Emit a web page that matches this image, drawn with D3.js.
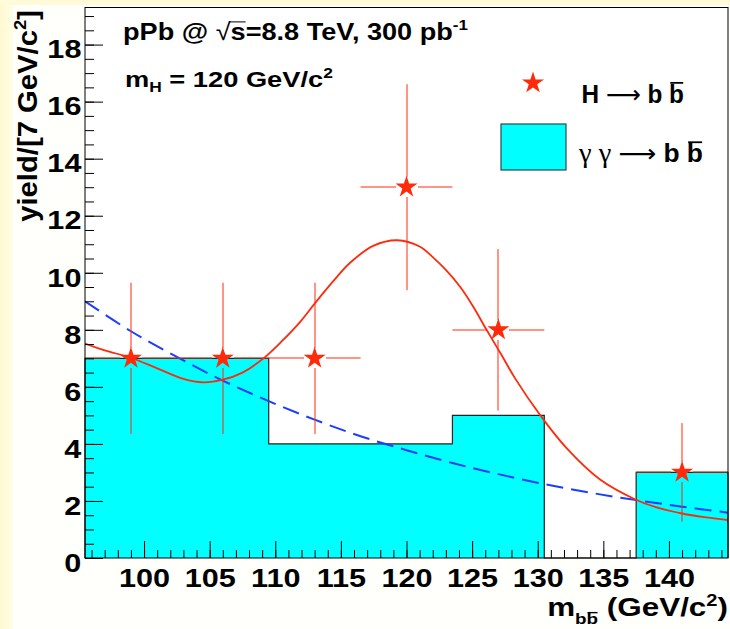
<!DOCTYPE html>
<html>
<head>
<meta charset="utf-8">
<script src="https://cdn.jsdelivr.net/npm/d3@7"></script>
<style>
  html, body { margin: 0; padding: 0; background: #fff; }
  svg { display: block; }
  text { font-family: "Liberation Sans", Arial, Helvetica, sans-serif; }
</style>
</head>
<body>
<svg id="chart" width="730" height="629"></svg>
<script>
// m_bb binning (GeV/c^2), 7 GeV wide bins
const binEdges = [95.5, 102.5, 109.5, 116.5, 123.5, 130.5, 137.5, 144.5];
// gamma gamma -> b bbar background counts per bin
const ggCounts = [7, 7, 4, 4, 5, 0, 3];

// H -> b bbar candidates (bin centre, yield, stat. error, half bin width)
const higgsMass   = [99, 106, 113, 120, 127, 141];
const higgsYield  = [7, 7, 7, 13, 8, 3];
const higgsErr    = [2.65, 2.65, 2.65, 3.61, 2.83, 1.73];
const higgsHalfBin = [3.5, 3.5, 3.5, 3.5, 3.5, 3.5];

// signal + background fit (solid red)
const totalFitMass  = [95.5, 97, 99, 101, 103, 104.5, 106, 107.5, 109.1, 110.5, 111.9, 113, 114.5, 115.7, 117.5, 119.3, 121, 122, 123, 124.1, 125.1, 126.1, 127.2, 128.3, 130.2, 132.2, 134.75, 137.4, 139, 141, 142.7, 144.5];
const totalFitYield = [7.52, 7.28, 7.02, 6.65, 6.28, 6.16, 6.25, 6.5, 7.0, 7.6, 8.28, 8.92, 9.75, 10.35, 10.95, 11.14, 10.92, 10.55, 10.1, 9.5, 8.8, 8.0, 7.15, 6.28, 5.0, 3.85, 2.75, 2.06, 1.78, 1.56, 1.43, 1.33];

// background-only fit (dashed blue)
const bkgFitMass  = [95.5, 99, 102.5, 106, 109.5, 113, 116.5, 120, 123.5, 127, 130.5, 134, 137.5, 141, 144.5];
const bkgFitYield = [9.0, 7.95, 7.05, 6.22, 5.5, 4.85, 4.27, 3.78, 3.33, 2.94, 2.59, 2.29, 2.03, 1.8, 1.59];

const xTickLabels = [100, 105, 110, 115, 120, 125, 130, 135, 140];
const yTickLabels = [0, 2, 4, 6, 8, 10, 12, 14, 16, 18];

const RED = "#ff2a0a";
const CYAN = "#00ffff";
const BLUE = "#1c3dff";

const svg = d3.select("#chart");
const frame = { left: 85, right: 728, top: 7.5, bottom: 558 };

const x = d3.scaleLinear().domain([binEdges[0], binEdges[binEdges.length - 1]]).range([frame.left, frame.right]);
const y = d3.scaleLinear().domain([0, 19.3]).range([frame.bottom, frame.top]);

// canvas background with the pale yellow edge
const defs = svg.append("defs");
const grad = defs.append("linearGradient").attr("id", "edge").attr("x1", 0).attr("x2", 1).attr("y1", 0).attr("y2", 0);
grad.append("stop").attr("offset", "0%").attr("stop-color", "#fff9d0");
grad.append("stop").attr("offset", "100%").attr("stop-color", "#fffde6");
svg.append("rect").attr("width", 730).attr("height", 629).attr("fill", "#fffffb");
svg.append("rect").attr("x", 0).attr("y", 0).attr("width", 13).attr("height", 629).attr("fill", "url(#edge)");
svg.append("rect").attr("x", 0).attr("y", 0).attr("width", 730).attr("height", 5).attr("fill", "#fffbd8");
svg.append("rect").attr("x", frame.left).attr("y", frame.top)
  .attr("width", frame.right - frame.left).attr("height", frame.bottom - frame.top).attr("fill", "#fff");

defs.append("clipPath").attr("id", "plotclip").append("rect")
  .attr("x", frame.left).attr("y", frame.top)
  .attr("width", frame.right - frame.left).attr("height", frame.bottom - frame.top);

// histogram
const histPts = ggCounts.map((c, i) => [binEdges[i], c]).concat([[binEdges[binEdges.length - 1], ggCounts[ggCounts.length - 1]]]);
svg.append("path")
  .datum(histPts)
  .attr("fill", CYAN)
  .attr("d", d3.area().x(d => x(d[0])).y0(y(0)).y1(d => y(d[1])).curve(d3.curveStepAfter));
const outlinePts = [[binEdges[0], 0]].concat(histPts, [[binEdges[binEdges.length - 1], 0]]);
svg.append("path")
  .datum(outlinePts)
  .attr("fill", "none").attr("stroke", "#222").attr("stroke-width", 1.2)
  .attr("d", d3.line().x(d => x(d[0])).y(d => y(d[1])).curve(d3.curveStepAfter));

const plot = svg.append("g").attr("clip-path", "url(#plotclip)");

// background-only fit
plot.append("path")
  .datum(d3.zip(bkgFitMass, bkgFitYield))
  .attr("fill", "none").attr("stroke", BLUE).attr("stroke-width", 2)
  .attr("stroke-dasharray", "17,8")
  .attr("d", d3.line().x(d => x(d[0])).y(d => y(d[1])).curve(d3.curveCatmullRom.alpha(0.5)));

// signal + background fit
plot.append("path")
  .datum(d3.zip(totalFitMass, totalFitYield))
  .attr("fill", "none").attr("stroke", RED).attr("stroke-width", 1.8)
  .attr("d", d3.line().x(d => x(d[0])).y(d => y(d[1])).curve(d3.curveCatmullRom.alpha(0.5)));

// error bars with a gap around each marker
const gap = 10;
const errG = plot.append("g").attr("stroke", RED).attr("stroke-width", 1);
higgsMass.forEach((m, i) => {
  const cx = Math.round(x(m)), cy = Math.round(y(higgsYield[i]));
  const top = y(higgsYield[i] + higgsErr[i]), bot = y(higgsYield[i] - higgsErr[i]);
  const l = x(m - higgsHalfBin[i]), r = x(m + higgsHalfBin[i]);
  errG.append("line").attr("x1", cx).attr("x2", cx).attr("y1", top).attr("y2", cy - gap);
  errG.append("line").attr("x1", cx).attr("x2", cx).attr("y1", cy + gap).attr("y2", bot);
  errG.append("line").attr("x1", l).attr("x2", cx - gap - 1).attr("y1", cy).attr("y2", cy);
  errG.append("line").attr("x1", cx + gap + 1).attr("x2", r).attr("y1", cy).attr("y2", cy);
});

// star markers
const star = d3.symbol().type(d3.symbolStar).size(150);
svg.append("g").selectAll("path").data(d3.zip(higgsMass, higgsYield)).join("path")
  .attr("d", star)
  .attr("fill", RED)
  .attr("transform", d => `translate(${x(d[0])},${y(d[1])})`);

// axes: ticks drawn inside the frame
function styleAxis(g) {
  g.select(".domain").remove();
  g.attr("font-family", null).attr("font-size", null);
  g.selectAll(".tick line").attr("stroke", "#000").attr("stroke-width", 1);
}
svg.append("g").attr("transform", `translate(${frame.left},0)`)
  .call(d3.axisLeft(y).tickValues(d3.range(0, 19.01, 0.5)).tickSize(-9).tickFormat(""))
  .call(styleAxis);
const yAx = svg.append("g").attr("transform", `translate(${frame.left},0)`)
  .call(d3.axisLeft(y).tickValues(yTickLabels).tickSize(-18).tickPadding(3).tickFormat(d3.format("d")))
  .call(styleAxis);
yAx.selectAll(".tick text")
  .attr("font-size", 25.5).attr("font-weight", "bold").attr("fill", "#000")
  .attr("dy", "0.52em").attr("transform", "scale(1.2,1)");

svg.append("g").attr("transform", `translate(0,${frame.bottom})`)
  .call(d3.axisBottom(x).tickValues(d3.range(96, 144.01, 1)).tickSize(-8).tickFormat(""))
  .call(styleAxis);
const xAx = svg.append("g").attr("transform", `translate(0,${frame.bottom})`)
  .call(d3.axisBottom(x).tickValues(xTickLabels).tickSize(-17).tickFormat(d3.format("d")))
  .call(styleAxis);
xAx.selectAll(".tick text")
  .attr("font-size", 25.5).attr("font-weight", "bold").attr("fill", "#000")
  .attr("y", 29).attr("dy", 0).attr("transform", "scale(1.2,1)");

// frame
svg.append("rect").attr("x", frame.left).attr("y", frame.top)
  .attr("width", frame.right - frame.left).attr("height", frame.bottom - frame.top)
  .attr("fill", "none").attr("stroke", "#000").attr("stroke-width", 1);

// text helper: rich text stretched to a given width
function fitText(parent, o) {
  const g = parent.append("g");
  const t = g.append("text")
    .attr("text-anchor", o.anchor || "start")
    .attr("font-size", o.size).attr("font-weight", "bold").attr("fill", "#000")
    .style("white-space", "pre");
  o.parts.forEach(p => {
    const ts = t.append("tspan").text(p.t);
    if (p.dy) ts.attr("dy", p.dy);
    if (p.size) ts.attr("font-size", p.size);
    if (p.normal) ts.attr("font-weight", "normal");
    if (p.family) ts.style("font-family", p.family);
  });
  const len = t.node().getComputedTextLength();
  const s = o.width / len;
  g.attr("transform", `translate(${o.x},${o.y})${o.rotate ? ` rotate(${o.rotate})` : ""} scale(${s},1)`);
  return { g, t };
}
function overline(ref, idx, lift, sw) {
  const e = ref.t.node().getExtentOfChar(idx);
  const yy = e.y + e.height * 0.17 - lift;
  ref.g.append("line").attr("x1", e.x + e.width * 0.08).attr("x2", e.x + e.width * 0.95)
    .attr("y1", yy).attr("y2", yy).attr("stroke", "#000").attr("stroke-width", sw || 1.8);
}

// header
const title = fitText(svg, {
  x: 123, y: 40, size: 24, width: 345,
  parts: [{ t: "pPb @ " }, { t: "\u221A", normal: true }, { t: "s=8.8 TeV, 300 pb" }, { t: "-1", size: 15, dy: -10 }]
});
{
  const er = title.t.node().getExtentOfChar(6), es = title.t.node().getExtentOfChar(7);
  const yy = es.y + es.height * 0.17 - 1;
  title.g.append("line").attr("x1", er.x + er.width - 1).attr("x2", es.x + es.width)
    .attr("y1", yy).attr("y2", yy).attr("stroke", "#000").attr("stroke-width", 1);
}
fitText(svg, {
  x: 125, y: 87, size: 22, width: 208,
  parts: [{ t: "m" }, { t: "H", size: 14, dy: 5 }, { t: " = 120 GeV/c", dy: -5 }, { t: "2", size: 14, dy: -9 }]
});

// legend
const legStar = d3.symbol().type(d3.symbolStar).size(150);
svg.append("path").attr("d", legStar).attr("fill", RED).attr("transform", "translate(533,83)");
const leg1 = fitText(svg, {
  x: 581.5, y: 102.5, size: 25, width: 102.5,
  parts: [{ t: "H " }, { t: "\u27F6", normal: true, family: "'DejaVu Sans', sans-serif" }, { t: " b b" }]
});
overline(leg1, 6, 2, 1.8);
svg.append("rect").attr("x", 501).attr("y", 124).attr("width", 65).attr("height", 46)
  .attr("fill", CYAN).attr("stroke", "#2a4a4a").attr("stroke-width", 1.2);
const leg2 = fitText(svg, {
  x: 579, y: 162, size: 25, width: 124,
  parts: [{ t: "\u03B3 \u03B3 ", normal: true, family: "'Liberation Serif', serif", size: 27 }, { t: "\u27F6", normal: true, family: "'DejaVu Sans', sans-serif" }, { t: " b b" }]
});
overline(leg2, 8, 2, 1.8);

// axis titles
const xTitle = fitText(svg, {
  x: 728, y: 616, size: 25, width: 181, anchor: "end",
  parts: [{ t: "m" }, { t: "bb", size: 15, dy: 8 }, { t: " (GeV/c", dy: -8 }, { t: "2", size: 16, dy: -10 }, { t: ")", dy: 10 }]
});
overline(xTitle, 2, 1, 1.4);
fitText(svg, {
  x: 37, y: 10, size: 27, width: 212, anchor: "end", rotate: -90,
  parts: [{ t: "yield/[7 GeV/c" }, { t: "2", size: 17, dy: -11 }, { t: "]", dy: 11 }]
});
</script>
</body>
</html>
